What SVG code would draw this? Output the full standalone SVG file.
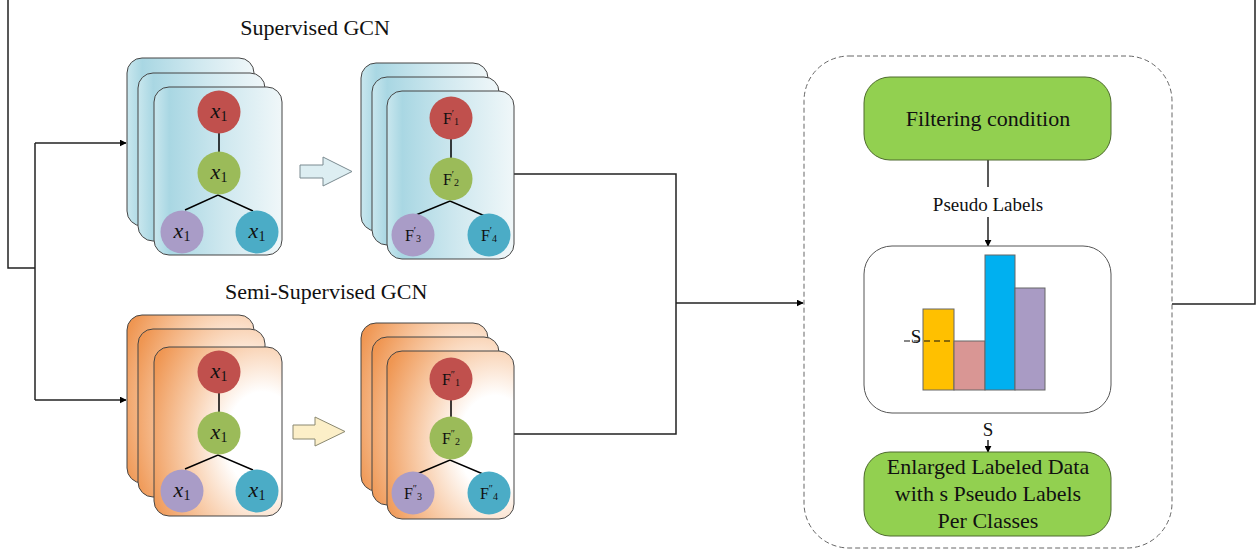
<svg xmlns="http://www.w3.org/2000/svg" width="1258" height="554" viewBox="0 0 1258 554">
<defs>
<linearGradient id="gBlue" x1="0" y1="0" x2="1" y2="0">
<stop offset="0" stop-color="#C9E7EE"/>
<stop offset="0.12" stop-color="#A9D7E3"/>
<stop offset="0.55" stop-color="#CFE8EF"/>
<stop offset="1" stop-color="#F0F7F9"/>
</linearGradient>
<radialGradient id="gOrange" cx="0.85" cy="0.55" r="0.95" fx="0.85" fy="0.55">
<stop offset="0" stop-color="#FFFFFF"/>
<stop offset="0.3" stop-color="#FFFFFF"/>
<stop offset="0.6" stop-color="#F9D2B3"/>
<stop offset="1" stop-color="#EF9652"/>
</radialGradient>
<marker id="arr" viewBox="0 0 10 10" refX="9" refY="5" markerWidth="7" markerHeight="7" markerUnits="userSpaceOnUse" orient="auto">
<path d="M0,0 L10,5 L0,10 z" fill="#000"/>
</marker>
<style>
text{font-family:"Times New Roman","Liberation Serif",Tinos,serif}
.cb{fill:url(#gBlue);stroke:#454545;stroke-width:1}
.co{fill:url(#gOrange);stroke:#454545;stroke-width:1}
.r{fill:#C0504D}.g{fill:#9BBB59}.p{fill:#A99CC7}.t{fill:#4BACC6}
.tl{stroke:#000;stroke-width:1.5;fill:none}
.xl{font-size:22px;font-style:italic;text-anchor:middle;fill:#111}
.sub{font-style:normal;font-size:14px}
.fl{font-size:16px;text-anchor:middle;fill:#111}
.title{font-size:22px;fill:#111}
.lbl{font-size:19px;text-anchor:middle;fill:#111}
.big{font-size:22px;text-anchor:middle;fill:#111}
.conn{stroke:#222;stroke-width:1.5;fill:none}
.green{fill:#92D050;stroke:#4E6B2E;stroke-width:1}
</style>
</defs>
<rect width="1258" height="554" fill="#fff"/>

<text class="title" x="315" y="35" text-anchor="middle">Supervised GCN</text>
<text class="title" x="225" y="299">Semi-Supervised GCN</text>

<g id="container">
<rect x="804" y="56" width="368" height="492" rx="45" fill="none" stroke="#666" stroke-width="1" stroke-dasharray="5,3"/>
</g>

<g id="connectors">
<path class="conn" d="M1172,304 H1255 V-5 H8 V268 H35"/>
<path class="conn" d="M35,143 V400"/>
<path class="conn" d="M35,143 H126" marker-end="url(#arr)"/>
<path class="conn" d="M35,400 H126" marker-end="url(#arr)"/>
<path class="conn" d="M514,174 H676 V434 H514"/>
<path class="conn" d="M676,303 H803" marker-end="url(#arr)"/>
<path class="conn" d="M988,160 V187"/>
<path class="conn" d="M988,217 V246" marker-end="url(#arr)"/>
<path class="conn" d="M988,401 V413"/>
<path class="conn" d="M988,440 V452" marker-end="url(#arr)"/>
</g>

<g id="sup-input">
<rect class="cb" x="127" y="58" width="127" height="168" rx="15"/>
<rect class="cb" x="138" y="73" width="127" height="168" rx="15"/>
<rect class="cb" x="154" y="87" width="128" height="168" rx="15"/>
<path class="tl" d="M219,133 V152 M185,210 L218,195 L253,211"/>
<circle class="r" cx="219" cy="112" r="21.5"/>
<circle class="g" cx="219" cy="173" r="21.5"/>
<circle class="p" cx="182" cy="232" r="21.5"/>
<circle class="t" cx="257" cy="232" r="21.5"/>
<text class="xl" x="219" y="118">x<tspan class="sub" dy="3">1</tspan></text>
<text class="xl" x="219" y="179">x<tspan class="sub" dy="3">1</tspan></text>
<text class="xl" x="182" y="238">x<tspan class="sub" dy="3">1</tspan></text>
<text class="xl" x="257" y="238">x<tspan class="sub" dy="3">1</tspan></text>
</g>

<g id="sup-arrow">
<polygon points="300,165 323,165 323,157 352,171.5 323,186 323,178 300,178" fill="#DDEEF2" stroke="#7A8A90" stroke-width="1"/>
</g>

<g id="sup-output">
<rect class="cb" x="361" y="63" width="127" height="168" rx="15"/>
<rect class="cb" x="372" y="77" width="127" height="168" rx="15"/>
<rect class="cb" x="387" y="91" width="127" height="168" rx="15"/>
<path class="tl" d="M451,139 V158 M416,215 L450,201 L485,216"/>
<circle class="r" cx="451" cy="118" r="21.5"/>
<circle class="g" cx="451" cy="179" r="21.5"/>
<circle class="p" cx="413" cy="235" r="21.5"/>
<circle class="t" cx="489" cy="235" r="21.5"/>
<text class="fl" x="451" y="124">F<tspan font-size="10" dy="-7">′</tspan><tspan font-size="10" dy="8">1</tspan></text>
<text class="fl" x="451" y="185">F<tspan font-size="10" dy="-7">′</tspan><tspan font-size="10" dy="8">2</tspan></text>
<text class="fl" x="413" y="241">F<tspan font-size="10" dy="-7">′</tspan><tspan font-size="10" dy="8">3</tspan></text>
<text class="fl" x="489" y="241">F<tspan font-size="10" dy="-7">′</tspan><tspan font-size="10" dy="8">4</tspan></text>
</g>

<g id="semi-input">
<rect class="co" x="127" y="315" width="127" height="168" rx="15"/>
<rect class="co" x="138" y="329" width="127" height="168" rx="15"/>
<rect class="co" x="154" y="347" width="128" height="169" rx="15"/>
<path class="tl" d="M219,393 V412 M185,469 L218,455 L253,470"/>
<circle class="r" cx="219" cy="372" r="21.5"/>
<circle class="g" cx="219" cy="433" r="21.5"/>
<circle class="p" cx="182" cy="491" r="21.5"/>
<circle class="t" cx="257" cy="491" r="21.5"/>
<text class="xl" x="219" y="378">x<tspan class="sub" dy="3">1</tspan></text>
<text class="xl" x="219" y="439">x<tspan class="sub" dy="3">1</tspan></text>
<text class="xl" x="182" y="497">x<tspan class="sub" dy="3">1</tspan></text>
<text class="xl" x="257" y="497">x<tspan class="sub" dy="3">1</tspan></text>
</g>

<g id="semi-arrow">
<polygon points="293,425 315,425 315,417 345,431.5 315,446 315,439 293,439" fill="#FCEFC8" stroke="#8A8870" stroke-width="1"/>
</g>

<g id="semi-output">
<rect class="co" x="361" y="323" width="127" height="168" rx="15"/>
<rect class="co" x="372" y="337" width="127" height="168" rx="15"/>
<rect class="co" x="387" y="351" width="127" height="168" rx="15"/>
<path class="tl" d="M451,400 V417 M417,474 L450,460 L483,474"/>
<circle class="r" cx="451" cy="379" r="21.5"/>
<circle class="g" cx="451" cy="438" r="21.5"/>
<circle class="p" cx="413" cy="493" r="21.5"/>
<circle class="t" cx="489" cy="493" r="21.5"/>
<text class="fl" x="451" y="385">F<tspan font-size="10" dy="-7">″</tspan><tspan font-size="10" dy="8">1</tspan></text>
<text class="fl" x="451" y="444">F<tspan font-size="10" dy="-7">″</tspan><tspan font-size="10" dy="8">2</tspan></text>
<text class="fl" x="413" y="499">F<tspan font-size="10" dy="-7">″</tspan><tspan font-size="10" dy="8">3</tspan></text>
<text class="fl" x="489" y="499">F<tspan font-size="10" dy="-7">″</tspan><tspan font-size="10" dy="8">4</tspan></text>
</g>

<g id="filter">
<rect class="green" x="864" y="77" width="247" height="83" rx="26"/>
<text class="big" x="988" y="126">Filtering condition</text>
</g>

<text class="lbl" x="988" y="211">Pseudo Labels</text>

<g id="chart">
<rect x="864" y="246" width="247" height="167" rx="28" fill="#fff" stroke="#555" stroke-width="1"/>
<rect x="923" y="309" width="31" height="81" fill="#FFC000" stroke="#666" stroke-width="1"/>
<rect x="954" y="341" width="31" height="49" fill="#D99694" stroke="#666" stroke-width="1"/>
<rect x="985" y="255" width="30" height="135" fill="#00B0F0" stroke="#666" stroke-width="1"/>
<rect x="1015" y="288" width="30" height="102" fill="#A99BC4" stroke="#666" stroke-width="1"/>
<path d="M904,341 H954" stroke="#111" stroke-width="1.2" stroke-dasharray="6,4"/>
<text class="lbl" x="916" y="343" font-size="17">S</text>
</g>

<text class="lbl" x="988" y="436" font-size="17">S</text>

<g id="enlarged">
<rect class="green" x="864" y="452" width="247" height="84" rx="26"/>
<text class="big" x="988" y="474">Enlarged Labeled Data</text>
<text class="big" x="988" y="501">with s Pseudo Labels</text>
<text class="big" x="988" y="528">Per Classes</text>
</g>
</svg>
